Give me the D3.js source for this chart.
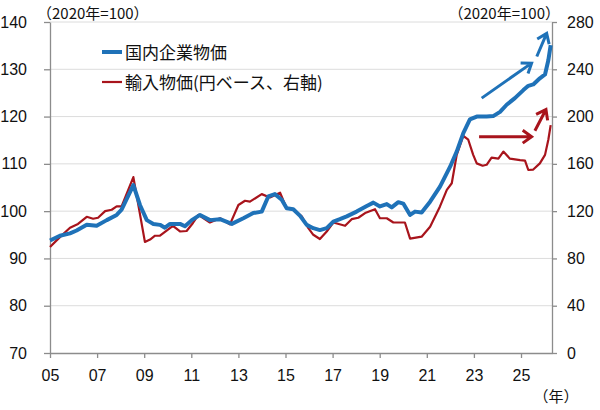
<!DOCTYPE html>
<html><head><meta charset="utf-8">
<script src="https://cdn.jsdelivr.net/npm/d3@7"></script>
<style>
html,body{margin:0;padding:0;background:#fff;}
svg{display:block;}
.tick text{font-family:"Liberation Sans",Arial,sans-serif;font-size:16px;fill:#111;}
.jp{font-family:"Noto Sans CJK JP",sans-serif;fill:#111;}
</style></head>
<body>
<svg id="c" width="600" height="410"></svg>
<script>
// ---- data ----
const leftTicks = [70, 80, 90, 100, 110, 120, 130, 140];
const rightTicks = [0, 40, 80, 120, 160, 200, 240, 280];
const xTicks = [2005, 2007, 2009, 2011, 2013, 2015, 2017, 2019, 2021, 2023, 2025];
const seriesNames = ["国内企業物価", "輸入物価(円ベース、右軸)"];

// 国内企業物価 (left axis, 2020=100)
const cgpiDates = [2005.0,2005.42,2005.85,2006.13,2006.56,2006.98,2007.41,2007.83,2008.04,2008.54,2008.82,2009.11,2009.39,2009.67,2009.88,2010.1,2010.52,2010.73,2011.02,2011.37,2011.79,2012.22,2012.72,2013.21,2013.63,2013.99,2014.27,2014.55,2014.84,2015.05,2015.33,2015.62,2015.9,2016.18,2016.46,2016.75,2017.03,2017.31,2017.6,2018.02,2018.45,2018.73,2019.01,2019.3,2019.51,2019.79,2020.0,2020.29,2020.5,2020.78,2021.14,2021.56,2021.99,2022.27,2022.55,2022.83,2023.12,2023.54,2023.82,2024.11,2024.39,2024.74,2025.1,2025.31,2025.52,2025.8,2026.02,2026.16,2026.26];
const cgpiValues = [93.8,94.8,95.3,95.9,97.1,96.9,98.1,99.2,100.3,105.5,101.3,98.1,97.3,97.1,96.5,97.3,97.3,96.8,98.1,99.2,98.1,98.3,97.3,98.5,99.6,99.9,103.1,103.6,102.4,100.6,100.4,99.0,97.1,96.4,96.0,96.4,97.8,98.3,98.9,99.9,101.1,101.8,101.0,101.5,100.8,101.9,101.6,99.2,99.9,99.7,102.0,105.2,109.4,112.6,116.5,119.4,120.0,120.0,120.1,121.0,122.5,123.9,125.6,126.5,126.8,128.1,128.9,131.9,135.1];

// 輸入物価 円ベース (right axis, 2020=100)
const importDates = [2005.0,2005.42,2005.85,2006.19,2006.56,2006.83,2007.04,2007.34,2007.62,2007.83,2008.04,2008.54,2009.03,2009.25,2009.46,2009.67,2010.22,2010.52,2010.8,2011.07,2011.3,2011.79,2012.22,2012.64,2013.0,2013.28,2013.49,2013.99,2014.34,2014.77,2015.05,2015.33,2015.69,2015.97,2016.18,2016.46,2016.75,2017.03,2017.53,2017.81,2018.09,2018.38,2018.8,2019.01,2019.3,2019.58,2020.07,2020.29,2020.78,2021.14,2021.56,2021.85,2022.06,2022.27,2022.55,2022.76,2022.97,2023.12,2023.37,2023.54,2023.75,2024.04,2024.25,2024.53,2024.96,2025.17,2025.31,2025.52,2025.8,2026.02,2026.16,2026.26];
const importValues = [89.6,98,106,109.2,115.2,113.6,114.4,120,121.2,124,124,148.8,94,96,99.2,99.2,107.6,102.8,103.2,110,116.8,110.4,114,108.8,125.2,128.8,128,134.4,131.6,135.6,122.4,121.6,115.6,105.6,100,96.4,102.8,110.4,107.6,113.2,114.4,118.4,121.6,114,114,110.4,110.4,96.8,98.4,106.8,124,138,143.6,167.6,183.6,180.4,167.6,160.4,158.4,159.2,165.2,164.4,170.4,164.4,163.2,162.8,154.8,155.2,160.4,167.6,180.4,192.8];

// annotation arrows: [x0, y0, x1, y1] in data units
const blueArrows = [[2023.33, 123.9, 2025.45, 131.3], [2025.67, 132.7, 2026.09, 137.6]];   // left axis units
const redArrows  = [[2023.22, 183, 2025.45, 183], [2025.59, 188, 2026.06, 206]];           // right axis units

// ---- chart ----
const BLUE = "#1f72b8", RED = "#a8141c", AXIS = "#8c8c8c", GRID = "#dcdcdc";
const svg = d3.select("#c");
const x = d3.scaleLinear().domain([2005, 2026.316]).range([50, 552]);
const yL = d3.scaleLinear().domain([70, 140]).range([353, 22]);
const yR = d3.scaleLinear().domain([0, 280]).range([353, 22]);

// grid
svg.append("g").selectAll("line").data(leftTicks.filter(d => d > 70)).join("line")
  .attr("x1", x.range()[0]).attr("x2", x.range()[1])
  .attr("y1", d => yL(d)).attr("y2", d => yL(d))
  .attr("stroke", GRID).attr("stroke-width", 1);

function styleAxis(g) {
  g.selectAll("path.domain").attr("stroke", AXIS).attr("stroke-width", 1.3);
  g.selectAll(".tick line").attr("stroke", AXIS).attr("stroke-width", 1.3);
}

const gl = svg.append("g").attr("transform", "translate(50,0)")
  .call(d3.axisLeft(yL).tickValues(leftTicks).tickSize(6).tickSizeOuter(0).tickPadding(17));
styleAxis(gl);
gl.selectAll(".tick text").attr("font-family", null).attr("font-size", null);

const gr = svg.append("g").attr("transform", "translate(552,0)")
  .call(d3.axisRight(yR).tickValues(rightTicks).tickSize(5).tickSizeOuter(0).tickPadding(10));
styleAxis(gr);
gr.selectAll(".tick text").attr("font-family", null).attr("font-size", null);

const gb = svg.append("g").attr("transform", "translate(0,353)")
  .call(d3.axisBottom(x).tickValues(xTicks).tickSize(5).tickSizeOuter(0).tickPadding(12)
    .tickFormat(d => String(d % 100).padStart(2, "0")));
styleAxis(gb);
gb.selectAll(".tick text").attr("font-family", null).attr("font-size", null);

// lines
const cgpi = cgpiDates.map((d, i) => [d, cgpiValues[i]]);
const imp = importDates.map((d, i) => [d, importValues[i]]);

svg.append("path").datum(imp)
  .attr("fill", "none").attr("stroke", RED).attr("stroke-width", 2.2)
  .attr("stroke-linejoin", "round")
  .attr("d", d3.line().x(d => x(d[0])).y(d => yR(d[1])));

svg.append("path").datum(cgpi)
  .attr("fill", "none").attr("stroke", BLUE).attr("stroke-width", 4)
  .attr("stroke-linejoin", "round")
  .attr("d", d3.line().x(d => x(d[0])).y(d => yL(d[1])));

// arrows
function arrow(a, yS, color) {
  const x0 = x(a[0]), y0 = yS(a[1]), x1 = x(a[2]), y1 = yS(a[3]);
  const ang = Math.atan2(y1 - y0, x1 - x0), L = 11, spread = Math.PI * 0.8;
  const p = `M${x0},${y0}L${x1},${y1}` +
    `M${x1 + L * Math.cos(ang + spread)},${y1 + L * Math.sin(ang + spread)}L${x1},${y1}` +
    `L${x1 + L * Math.cos(ang - spread)},${y1 + L * Math.sin(ang - spread)}`;
  svg.append("path").attr("d", p).attr("fill", "none").attr("stroke", color)
    .attr("stroke-width", 3).attr("stroke-linecap", "butt").attr("stroke-linejoin", "miter");
}
blueArrows.forEach(a => arrow(a, yL, BLUE));
redArrows.forEach(a => arrow(a, yR, RED));

// unit labels
svg.append("text").attr("class", "jp").attr("x", 37).attr("y", 19).attr("font-size", 15)
  .text("（2020年=100）");
svg.append("text").attr("class", "jp").attr("x", 560).attr("y", 19).attr("font-size", 15)
  .attr("text-anchor", "end").text("（2020年=100）");
svg.append("text").attr("class", "jp").attr("x", 556).attr("y", 402).attr("font-size", 15)
  .attr("text-anchor", "middle").text("（年）");

// legend
const lg = svg.append("g");
[[BLUE, 4, 52], [RED, 2.2, 82]].forEach((c, i) => {
  lg.append("line").attr("x1", 102).attr("x2", 122).attr("y1", c[2]).attr("y2", c[2])
    .attr("stroke", c[0]).attr("stroke-width", c[1]);
  lg.append("text").attr("class", "jp").attr("x", 125).attr("y", c[2] + 6.5)
    .attr("font-size", 17).text(seriesNames[i]);
});
</script>
</body></html>
